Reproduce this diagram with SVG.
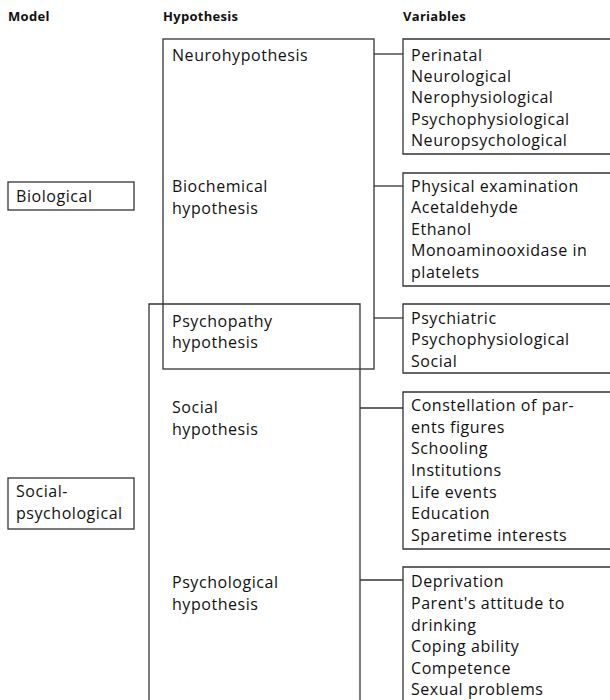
<svg xmlns="http://www.w3.org/2000/svg" width="610" height="700" viewBox="0 0 610 700">
<style>
.h{font-family:"Open Sans","Noto Sans","Liberation Sans",sans-serif;font-weight:bold;font-size:13px;letter-spacing:0.3px;fill:#111}
.t{font-family:"Open Sans","Noto Sans","Liberation Sans",sans-serif;font-size:16px;letter-spacing:0.55px;fill:#111}
.b{fill:none;stroke:#333;stroke-width:1.3}
.c{fill:none;stroke:#333;stroke-width:1.3}
</style>
<rect width="610" height="700" fill="#fff"/>
<g id="headers">
<text class="h" x="8" y="21">Model</text>
<text class="h" x="163" y="21">Hypothesis</text>
<text class="h" x="403" y="21">Variables</text>
</g>
<g id="model-biological">
<rect class="b" x="8" y="182" width="126" height="28"/>
<text class="t" x="16" y="202">Biological</text>
</g>
<g id="model-social">
<rect class="b" x="8" y="478" width="126" height="51"/>
<text class="t" x="16" y="497">Social-</text>
<text class="t" x="16" y="519">psychological</text>
</g>
<g id="hyp-biological-group">
<rect class="b" x="163" y="39" width="211" height="330"/>
</g>
<g id="hyp-social-group">
<path class="b" d="M149,700 V304 H360 V700"/>
</g>
<g id="hyp-neuro"><text class="t" x="172" y="61">Neurohypothesis</text></g>
<g id="hyp-biochemical"><text class="t" x="172" y="192">Biochemical</text><text class="t" x="172" y="214">hypothesis</text></g>
<g id="hyp-psychopathy"><text class="t" x="172" y="327">Psychopathy</text><text class="t" x="172" y="348">hypothesis</text></g>
<g id="hyp-social"><text class="t" x="172" y="413">Social</text><text class="t" x="172" y="435">hypothesis</text></g>
<g id="hyp-psychological"><text class="t" x="172" y="588">Psychological</text><text class="t" x="172" y="610">hypothesis</text></g>
<g id="var-neuro">
<path class="b" d="M611,39 H403 V154 H611"/>
<text class="t" x="411" y="61">Perinatal</text>
<text class="t" x="411" y="82">Neurological</text>
<text class="t" x="411" y="103">Nerophysiological</text>
<text class="t" x="411" y="125">Psychophysiological</text>
<text class="t" x="411" y="146">Neuropsychological</text>
</g>
<g id="var-biochemical">
<path class="b" d="M611,173 H403 V286 H611"/>
<text class="t" x="411" y="192">Physical examination</text>
<text class="t" x="411" y="213">Acetaldehyde</text>
<text class="t" x="411" y="235">Ethanol</text>
<text class="t" x="411" y="256">Monoaminooxidase in</text>
<text class="t" x="411" y="278">platelets</text>
</g>
<g id="var-psychopathy">
<path class="b" d="M611,304 H403 V373 H611"/>
<text class="t" x="411" y="324">Psychiatric</text>
<text class="t" x="411" y="345">Psychophysiological</text>
<text class="t" x="411" y="367">Social</text>
</g>
<g id="var-social">
<path class="b" d="M611,392 H403 V549 H611"/>
<text class="t" x="411" y="411">Constellation of par-</text>
<text class="t" x="411" y="433">ents figures</text>
<text class="t" x="411" y="454">Schooling</text>
<text class="t" x="411" y="476">Institutions</text>
<text class="t" x="411" y="498">Life events</text>
<text class="t" x="411" y="519">Education</text>
<text class="t" x="411" y="541">Sparetime interests</text>
</g>
<g id="var-psychological">
<path class="b" d="M611,567 H403 V701"/>
<text class="t" x="411" y="587">Deprivation</text>
<text class="t" x="411" y="609">Parent's attitude to</text>
<text class="t" x="411" y="631">drinking</text>
<text class="t" x="411" y="652">Coping ability</text>
<text class="t" x="411" y="674">Competence</text>
<text class="t" x="411" y="695">Sexual problems</text>
</g>
<g id="connectors">
<path class="c" d="M374,54 H403"/>
<path class="c" d="M374,186 H403"/>
<path class="c" d="M374,318 H403"/>
<path class="c" d="M360,408 H403"/>
<path class="c" d="M360,580 H403"/>
</g>
</svg>
